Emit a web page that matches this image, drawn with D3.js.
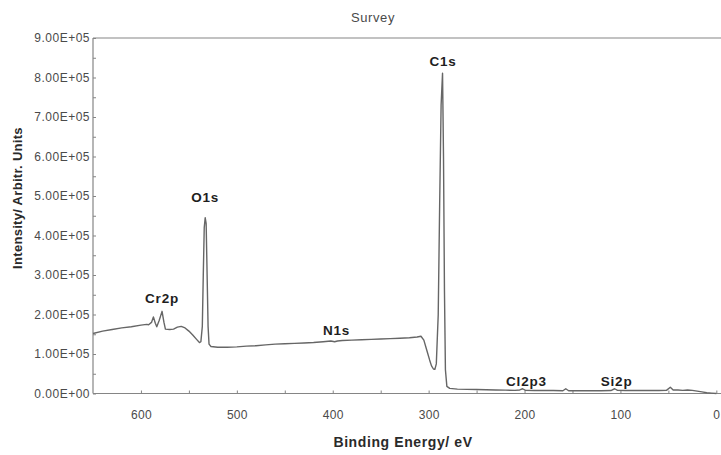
<!DOCTYPE html>
<html>
<head>
<meta charset="utf-8">
<script src="https://cdn.jsdelivr.net/npm/d3@7"></script>
<style>
  html, body { margin: 0; padding: 0; background: #ffffff; }
  svg { display: block; font-family: "Liberation Sans", Arial, sans-serif; }
</style>
</head>
<body>
<svg id="chart" width="721" height="455"></svg>
<script>
// XPS survey spectrum: binding energy (eV) and intensity (counts, thousands)
const bindingEnergy = [
  650, 640, 630, 620, 610, 600, 594, 592, 589, 587, 585, 583.5, 581, 578, 576, 574.5,
  570, 566, 562, 558, 554, 550, 546, 542, 539, 537.5, 536, 535, 534, 533, 532, 531, 530, 529, 527,
  520, 510, 500, 490, 480, 470, 460, 450, 440, 430, 420, 410, 402, 398, 395, 390, 380, 370, 360,
  350, 340, 330, 320, 312, 308, 305, 302, 299, 297, 295, 293.5, 292, 290, 288.5, 287, 285.5, 284.5,
  283.5, 282.5, 281, 278, 270, 260, 250, 240, 230, 220, 210, 205, 202, 199, 190, 180, 170, 160,
  157, 154, 140, 130, 120, 110, 106, 103, 95, 80, 70, 60, 52, 48, 45, 40, 35, 30, 25, 20, 15, 10, 5, 0
];
const intensityK = [
  152, 158, 162, 166, 169, 173, 175, 174, 180, 194, 178, 169, 185, 208, 180, 163,
  162, 163, 168, 170, 166, 158, 148, 137, 129, 131, 170, 300, 420, 445, 430, 300, 170, 125, 119,
  117, 117, 118, 120, 121, 123, 125, 126, 127, 128, 129, 131, 133, 131, 133, 134, 135, 136, 137,
  138, 139, 140, 141, 143, 145, 135, 110, 85, 70, 62, 61, 75, 200, 480, 730, 811, 600,
  260, 60, 18, 13, 11, 10.5, 10, 9.5, 9, 8.5, 8, 9, 12, 8, 7.5, 7.5, 7.5, 7,
  12, 7, 7, 7, 7, 7.5, 12, 8, 7.5, 7.5, 7.5, 7.5, 8, 16, 9, 9, 8, 9, 8, 6, 4, 2, 1, 0
];

// Peak annotations
const peakNames = ["Cr2p", "O1s", "N1s", "C1s", "Cl2p3", "Si2p"];
const peakEnergy = [578, 533, 396, 285, 198, 104];
const peakLabelY = [230, 485, 148, 828, 20, 20]; // label baseline, in thousands of counts

// Axis ticks
const yTickValues = [0, 100, 200, 300, 400, 500, 600, 700, 800, 900];
const yTickLabels = ["0.00E+00", "1.00E+05", "2.00E+05", "3.00E+05", "4.00E+05",
                     "5.00E+05", "6.00E+05", "7.00E+05", "8.00E+05", "9.00E+05"];
const xTickValues = [600, 500, 400, 300, 200, 100, 0];

const svg = d3.select("#chart");
const plotLeft = 93, plotTop = 38, plotBottom = 393.5, plotRight = 724;

const x = d3.scaleLinear().domain([650, -8]).range([plotLeft, plotRight]);
const y = d3.scaleLinear().domain([0, 900]).range([plotBottom, plotTop]);

const axisColor = "#858585";
const textColor = "#4a4a4a";

// Frame: left axis, bottom axis, top border
svg.append("line").attr("x1", plotLeft).attr("x2", plotLeft).attr("y1", plotTop).attr("y2", plotBottom)
  .attr("stroke", axisColor).attr("stroke-width", 1.2);
svg.append("line").attr("x1", plotLeft).attr("x2", 721).attr("y1", plotBottom).attr("y2", plotBottom)
  .attr("stroke", axisColor).attr("stroke-width", 1.2);
svg.append("line").attr("x1", plotLeft).attr("x2", 721).attr("y1", plotTop).attr("y2", plotTop)
  .attr("stroke", axisColor).attr("stroke-width", 1.2);

// Y axis with minor ticks
const yAxis = d3.axisLeft(y)
  .tickValues(d3.range(0, 901, 50))
  .tickSize(-3)
  .tickFormat(d => { const i = yTickValues.indexOf(d); return i >= 0 ? yTickLabels[i] : ""; });
const gy = svg.append("g").attr("transform", `translate(${plotLeft},0)`).call(yAxis);
gy.select(".domain").remove();
gy.selectAll(".tick line").attr("stroke", axisColor);
gy.selectAll(".tick text")
  .attr("x", -3)
  .attr("fill", textColor)
  .style("font-size", "12px")
  .style("letter-spacing", "0.5px");

// X axis with ticks every 50 eV
const xAxis = d3.axisBottom(x)
  .tickValues(d3.range(600, -1, -50))
  .tickSize(-3)
  .tickFormat(d => xTickValues.includes(d) ? String(d) : "");
const gx = svg.append("g").attr("transform", `translate(0,${plotBottom})`).call(xAxis);
gx.select(".domain").remove();
gx.selectAll(".tick line").attr("stroke", axisColor);
gx.selectAll(".tick text")
  .attr("y", 17)
  .attr("fill", textColor)
  .style("font-size", "12px")
  .style("letter-spacing", "0.3px");

// Spectrum trace
const data = bindingEnergy.map((e, i) => ({ e, v: intensityK[i] }));
const line = d3.line().x(d => x(d.e)).y(d => y(d.v));
svg.append("path")
  .datum(data)
  .attr("d", line)
  .attr("fill", "none")
  .attr("stroke", "#666666")
  .attr("stroke-width", 1.4)
  .attr("stroke-linejoin", "round");

// Peak labels
svg.selectAll("text.peak")
  .data(peakNames)
  .enter().append("text")
  .attr("class", "peak")
  .attr("x", (d, i) => x(peakEnergy[i]))
  .attr("y", (d, i) => y(peakLabelY[i]))
  .attr("text-anchor", "middle")
  .attr("fill", "#1e1e1e")
  .style("font-size", "13.5px")
  .style("font-weight", "600")
  .style("letter-spacing", "0.8px")
  .text(d => d);

// Title and axis titles
svg.append("text")
  .attr("x", 373).attr("y", 22)
  .attr("text-anchor", "middle")
  .attr("fill", textColor)
  .style("font-size", "13px")
  .style("letter-spacing", "0.6px")
  .text("Survey");

svg.append("text")
  .attr("x", 403).attr("y", 447)
  .attr("text-anchor", "middle")
  .attr("fill", "#2a2a2a")
  .style("font-size", "14px")
  .style("font-weight", "600")
  .style("letter-spacing", "0.6px")
  .text("Binding Energy/ eV");

svg.append("text")
  .attr("transform", "translate(22,198) rotate(-90)")
  .attr("text-anchor", "middle")
  .attr("fill", "#2a2a2a")
  .style("font-size", "13px")
  .style("font-weight", "600")
  .style("letter-spacing", "0.3px")
  .text("Intensity/ Arbitr. Units");
</script>
</body>
</html>
